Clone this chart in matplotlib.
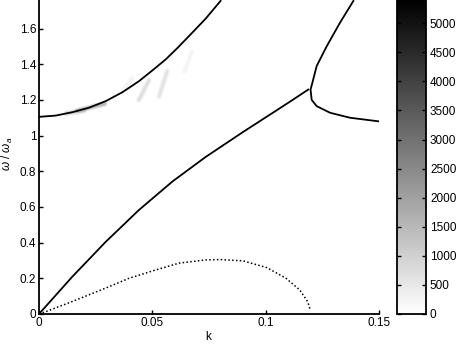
import numpy as np
import matplotlib
matplotlib.use("Agg")
import matplotlib.pyplot as plt
from matplotlib import cm, colors

plt.rcParams['font.family'] = ['Liberation Sans', 'DejaVu Sans']
plt.rcParams['font.size'] = 8.5
plt.rcParams['mathtext.fontset'] = 'custom'
plt.rcParams['mathtext.rm'] = 'Liberation Sans'
plt.rcParams['mathtext.it'] = 'Liberation Sans:italic'

# dispersion branches (k, omega/omega_a)
k_upper = [0, 0.0073, 0.0147, 0.022, 0.0294, 0.0368, 0.0441, 0.05, 0.0559, 0.061, 0.0662, 0.0735, 0.0801]
w_upper = [1.105, 1.112, 1.131, 1.156, 1.193, 1.243, 1.305, 1.365, 1.427, 1.49, 1.558, 1.655, 1.755]

k_mid = [0, 0.0147, 0.0294, 0.0441, 0.0588, 0.0735, 0.09, 0.10, 0.1107, 0.1188]
w_mid = [0, 0.209, 0.404, 0.583, 0.742, 0.88, 1.02, 1.102, 1.19, 1.258]

k_right = [0.1387, 0.1328, 0.1269, 0.1225, 0.1206, 0.1198, 0.1203, 0.1225, 0.1284, 0.1372, 0.1497]
w_right = [1.755, 1.633, 1.50, 1.39, 1.296, 1.258, 1.20, 1.165, 1.128, 1.10, 1.08]

k_dot = [0, 0.003, 0.0147, 0.0294, 0.0397, 0.0515, 0.0618, 0.0735, 0.080, 0.090, 0.1005, 0.109, 0.115, 0.1185, 0.1195]
w_dot = [0, 0.013, 0.07, 0.145, 0.20, 0.247, 0.285, 0.303, 0.305, 0.298, 0.26, 0.20, 0.135, 0.07, 0.03]

# faint spectral streaks: k0, w0, k1, w1, intensity
streak_k0 = [0.012, 0.017, 0.0441, 0.053, 0.0368, 0.0642]
streak_w0 = [1.125, 1.14, 1.20, 1.22, 1.25, 1.36]
streak_k1 = [0.020, 0.029, 0.0485, 0.0565, 0.041, 0.0675]
streak_w1 = [1.14, 1.178, 1.31, 1.36, 1.32, 1.47]
streak_val = [1300, 2000, 900, 800, 350, 300]

cmax = 5400
cticks = list(range(0, 5001, 500))

fig = plt.figure(figsize=(4.63, 3.45), dpi=100)
ax = fig.add_axes([0.0842, 0.0899, 0.7344, 0.9101])
cax = fig.add_axes([0.857, 0.0899, 0.0626, 0.9101])

norm = colors.Normalize(vmin=0, vmax=cmax)
cmap = plt.get_cmap('gray_r')

for i in range(len(streak_val)):
    for lw, a in [(4, 0.35), (2, 0.6)]:
        ax.plot([streak_k0[i], streak_k1[i]], [streak_w0[i], streak_w1[i]],
                color=cmap(norm(streak_val[i])), lw=lw, alpha=a,
                solid_capstyle='round', zorder=1)

ax.plot(k_upper, w_upper, color='k', lw=1.3, zorder=3)
ax.plot(k_mid, w_mid, color='k', lw=1.3, zorder=3)
ax.plot(k_right, w_right, color='k', lw=1.3, zorder=3)
ax.plot(k_dot, w_dot, color='k', lw=1.1, ls=(0, (1, 1.5)), zorder=3)

ax.set_xlim(0, 0.15)
ax.set_ylim(0, 1.76)
ax.set_xticks([0, 0.05, 0.1, 0.15])
ax.set_xticklabels(['0', '0.05', '0.1', '0.15'])
ax.set_yticks([0, 0.2, 0.4, 0.6, 0.8, 1.0, 1.2, 1.4, 1.6])
ax.set_yticklabels(['0', '0.2', '0.4', '0.6', '0.8', '1', '1.2', '1.4', '1.6'])
ax.tick_params(direction='in', length=3, width=1, pad=2)
ax.spines['top'].set_visible(False)
ax.spines['right'].set_visible(False)
ax.spines['left'].set_linewidth(1.3)
ax.spines['bottom'].set_linewidth(1.3)
ax.set_xlabel('k')
ax.xaxis.set_label_coords(0.497, -0.055)
ax.set_ylabel(r'$\omega$ / $\omega_a$')
ax.yaxis.set_label_coords(-0.07, 0.51)

sm = cm.ScalarMappable(norm=norm, cmap=cmap)
cb = fig.colorbar(sm, cax=cax, ticks=cticks)
cb.outline.set_linewidth(1.3)
cax.tick_params(direction='in', length=3, width=1, left=True, right=True, pad=3)

plt.savefig('out.png', dpi=100)
